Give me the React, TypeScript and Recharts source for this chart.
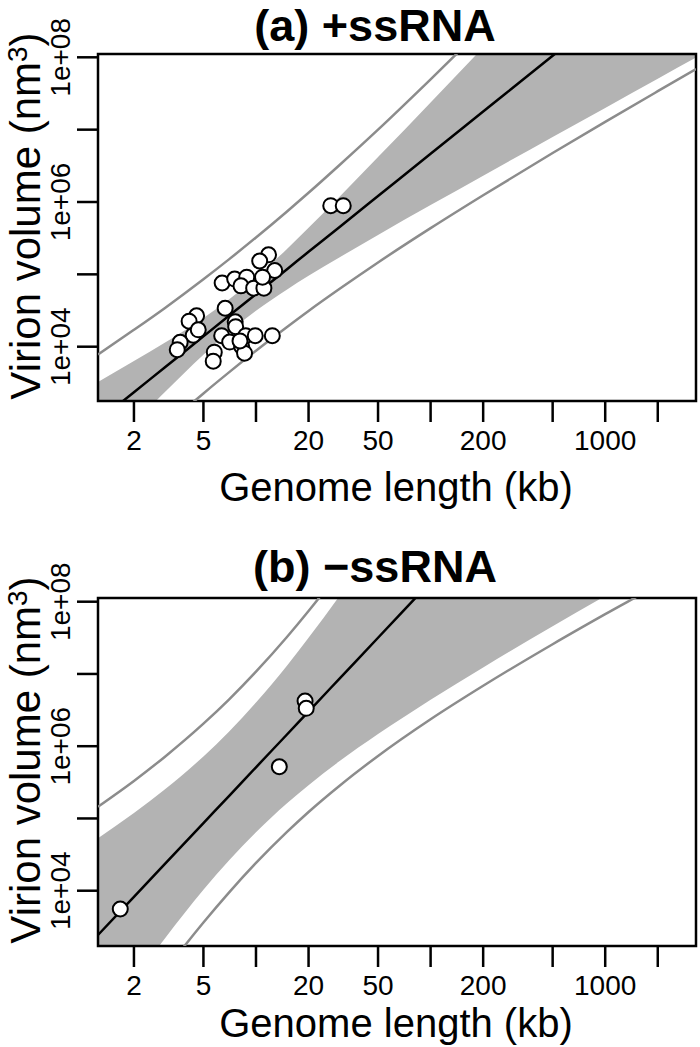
import { ComposedChart, Area, Line, Scatter, XAxis, YAxis, ReferenceArea } from 'recharts'

const FONT = '"Liberation Sans", Arial, Helvetica, sans-serif'

// shared x axis (kb, log)
const X_DOMAIN = [1.245, 3311]
const X_TICKS = [2, 5, 10, 20, 50, 100, 200, 500, 1000, 2000]
const X_LABELED = [2, 5, 20, 50, 200, 1000]
const Y_TICKS = [1e4, 1e5, 1e6, 1e7, 1e8]
const Y_LABELS: Record<number, string> = { 10000: '1e+04', 1000000: '1e+06', 100000000: '1e+08' }

const KB_GRID = [1.245, 2, 3, 5, 7, 10, 15, 20, 30, 50, 100, 200, 500, 1000, 2000, 3311]

// (a) +ssRNA
const A_KB = [11.8, 10.5, 12.8, 6.4, 7.55, 8.85, 8.2, 9.7, 11.1, 10.9, 6.66, 4.57, 4.14, 4.37, 4.67, 3.68, 3.54, 7.6, 7.65, 6.36, 7.07, 8.73, 9.9, 12.4, 8.28, 8.6, 5.77, 5.69, 26.8, 31.6, 8.1]
const A_VOL = [1.86e5, 1.53e5, 1.13e5, 7.6e4, 8.6e4, 9.15e4, 6.93e4, 6.45e4, 6.45e4, 9.15e4, 3.4e4, 2.68e4, 2.25e4, 1.44e4, 1.71e4, 1.15e4, 9.1e3, 2.21e4, 1.89e4, 1.42e4, 1.16e4, 1.42e4, 1.42e4, 1.42e4, 1.01e4, 8.13e3, 8.4e3, 6.3e3, 8.9e5, 8.9e5, 1.2e4]
const A_FIT = [935, 2350, 5150, 1.39e4, 2.67e4, 5.33e4, 1.17e5, 2.05e5, 4.49e5, 1.21e6, 4.65e6, 1.78e7, 1.05e8, 4.05e8, 1.55e9, 4.13e9]
const A_PI_HI = [7.8e3, 1.71e4, 3.41e4, 8.55e4, 1.61e5, 3.23e5, 7.35e5, 1.34e6, 3.22e6, 1.0e7, 4.96e7, 2.56e8, 2.34e9, 1.28e10, 7.08e10, 2.48e11]
const A_PI_LO = [112, 324, 778, 2.26e3, 4.42e3, 8.81e3, 1.86e4, 3.12e4, 6.26e4, 1.46e5, 4.35e5, 1.24e6, 4.75e6, 1.28e7, 3.4e7, 6.89e7]
const A_CI_HI = [3.25e3, 6.32e3, 1.13e4, 2.5e4, 4.49e4, 9.1e4, 2.23e5, 4.4e5, 1.175e6, 4.18e6, 2.38e7, 1.37e8, 1.4e9, 8.17e9, 4.76e10, 1.72e11]
const A_CI_LO = [269, 873, 2340, 7.73e3, 1.585e4, 3.13e4, 6.14e4, 9.53e4, 1.71e5, 3.51e5, 9.06e5, 2.31e6, 7.92e6, 2.0e7, 5.06e7, 9.9e7]
const A_Y_DOMAIN = [1776, 1.111e8]

// (b) -ssRNA
const B_KB = [1.67, 13.6, 19.1, 19.4]
const B_VOL = [5.58e3, 5.2e5, 4.22e6, 3.34e6]
const B_FIT = [2.44e3, 8.22e3, 2.33e4, 8.63e4, 2.04e5, 5.11e5, 1.44e6, 3.02e6, 8.55e6, 3.17e7, 1.88e8, 1.11e9, 1.16e10, 6.89e10, 4.07e11, 1.49e12]
const B_PI_HI = [1.456e5, 3.31e5, 7.11e5, 2.05e6, 4.42e6, 1.075e7, 3.22e7, 7.43e7, 2.59e8, 1.37e9, 1.49e10, 1.8e11, 5.2e12, 7e13, 9.7e14, 6.3e15]
const B_PI_LO = [40.8, 204, 762, 3.63e3, 9.43e3, 2.42e4, 6.46e4, 1.23e5, 2.82e5, 7.33e5, 2.36e6, 6.86e6, 2.58e7, 6.72e7, 1.71e8, 3.53e8]
const B_CI_HI = [5.31e4, 1.186e5, 2.51e5, 7.23e5, 1.59e6, 4.03e6, 1.29e7, 3.16e7, 1.19e8, 6.8e8, 8.0e9, 1e11, 2.96e12, 3.9e13, 5.3e14, 3.5e15]
const B_CI_LO = [112, 570, 2.16e3, 1.03e4, 2.62e4, 6.46e4, 1.61e5, 2.89e5, 6.17e5, 1.47e6, 4.4e6, 1.23e7, 4.57e7, 1.2e8, 3.14e8, 6.27e8]
const B_Y_DOMAIN = [1717, 1.125e8]

const bandRows = (fit: number[], piLo: number[], piHi: number[], ciLo: number[], ciHi: number[]) =>
  KB_GRID.map((kb, i) => ({ kb, fit: fit[i], piLo: piLo[i], piHi: piHi[i], ci: [ciLo[i], ciHi[i]] }))

const pointRows = (kb: number[], vol: number[]) => kb.map((k, i) => ({ kb: k, vol: vol[i] }))

const Dot = (p: any) => <circle cx={p.cx} cy={p.cy} r={7.5} fill="#fff" stroke="#000" strokeWidth={2} />

const YTick = (p: any) => {
  const { x, y, payload } = p
  return (
    <text x={x} y={y} transform={`rotate(-90 ${x} ${y})`} textAnchor="middle" fontSize={28} fontFamily={FONT} fill="#000">
      {Y_LABELS[payload.value] || ''}
    </text>
  )
}

interface PanelProps {
  title: string
  height: number
  top: number
  xAxisH: number
  titleTop: number
  xTitleY: number
  yTitleMid: number
  yDomain: number[]
  rows: any[]
  points: any[]
}

function Panel({ title, height, top, xAxisH, titleTop, xTitleY, yTitleMid, yDomain, rows, points }: PanelProps) {
  return (
    <div style={{ position: 'relative', width: 700, height }}>
      <ComposedChart width={700} height={height} data={rows} margin={{ top, right: 4, bottom: 0, left: 0 }}>
        <XAxis
          type="number"
          dataKey="kb"
          scale="log"
          domain={X_DOMAIN}
          allowDataOverflow
          ticks={X_TICKS}
          interval={0}
          height={xAxisH}
          axisLine={false}
          tickLine={{ stroke: '#000', strokeWidth: 2.5 }}
          tickSize={21}
          tickMargin={8}
          tick={{ fontSize: 28, fill: '#000', fontFamily: FONT }}
          tickFormatter={(v: number) => (X_LABELED.includes(v) ? String(v) : '')}
          label={() => (
            <text x={396} y={xTitleY} textAnchor="middle" fontSize={40} fontFamily={FONT} fill="#000">
              Genome length (kb)
            </text>
          )}
        />
        <YAxis
          type="number"
          dataKey="vol"
          scale="log"
          domain={yDomain}
          allowDataOverflow
          ticks={Y_TICKS}
          interval={0}
          width={98}
          axisLine={false}
          tickLine={{ stroke: '#000', strokeWidth: 2.5 }}
          tickSize={21}
          tickMargin={7}
          tick={<YTick />}
          label={() => (
            <text x={40} y={yTitleMid} transform={`rotate(-90 40 ${yTitleMid})`} textAnchor="middle" fontSize={42} fontFamily={FONT} fill="#000">
              Virion volume (nm<tspan dy={-13} fontSize={28}>3</tspan><tspan dy={13}>)</tspan>
            </text>
          )}
        />
        <Area dataKey="ci" type="monotone" fill="#b3b3b3" fillOpacity={1} stroke="none" isAnimationActive={false} />
        <Line dataKey="piHi" type="monotone" stroke="#8c8c8c" strokeWidth={2.5} dot={false} activeDot={false} isAnimationActive={false} />
        <Line dataKey="piLo" type="monotone" stroke="#8c8c8c" strokeWidth={2.5} dot={false} activeDot={false} isAnimationActive={false} />
        <Line dataKey="fit" type="monotone" stroke="#000" strokeWidth={2.5} dot={false} activeDot={false} isAnimationActive={false} />
        <Scatter data={points} shape={Dot} isAnimationActive={false} />
        <ReferenceArea x1={X_DOMAIN[0]} x2={X_DOMAIN[1]} y1={yDomain[0]} y2={yDomain[1]} fill="none" stroke="#000" strokeWidth={2.5} ifOverflow="visible" />
      </ComposedChart>
      <div
        style={{
          position: 'absolute',
          left: 0,
          width: 750,
          top: titleTop,
          textAlign: 'center',
          fontFamily: FONT,
          fontWeight: 'bold',
          fontSize: 45,
          lineHeight: '51px',
          pointerEvents: 'none',
        }}
      >
        {title}
      </div>
    </div>
  )
}

export default function App() {
  return (
    <div style={{ position: 'absolute', left: 0, top: 0, width: 700, height: 1047, background: '#fff' }}>
      <Panel
        title="(a) +ssRNA"
        height={523}
        top={54}
        xAxisH={122}
        titleTop={0}
        xTitleY={501}
        yTitleMid={216}
        yDomain={A_Y_DOMAIN}
        rows={bandRows(A_FIT, A_PI_LO, A_PI_HI, A_CI_LO, A_CI_HI)}
        points={pointRows(A_KB, A_VOL)}
      />
      <Panel
        title="(b) −ssRNA"
        height={524}
        top={75}
        xAxisH={101}
        titleTop={18}
        xTitleY={514}
        yTitleMid={237}
        yDomain={B_Y_DOMAIN}
        rows={bandRows(B_FIT, B_PI_LO, B_PI_HI, B_CI_LO, B_CI_HI)}
        points={pointRows(B_KB, B_VOL)}
      />
    </div>
  )
}
